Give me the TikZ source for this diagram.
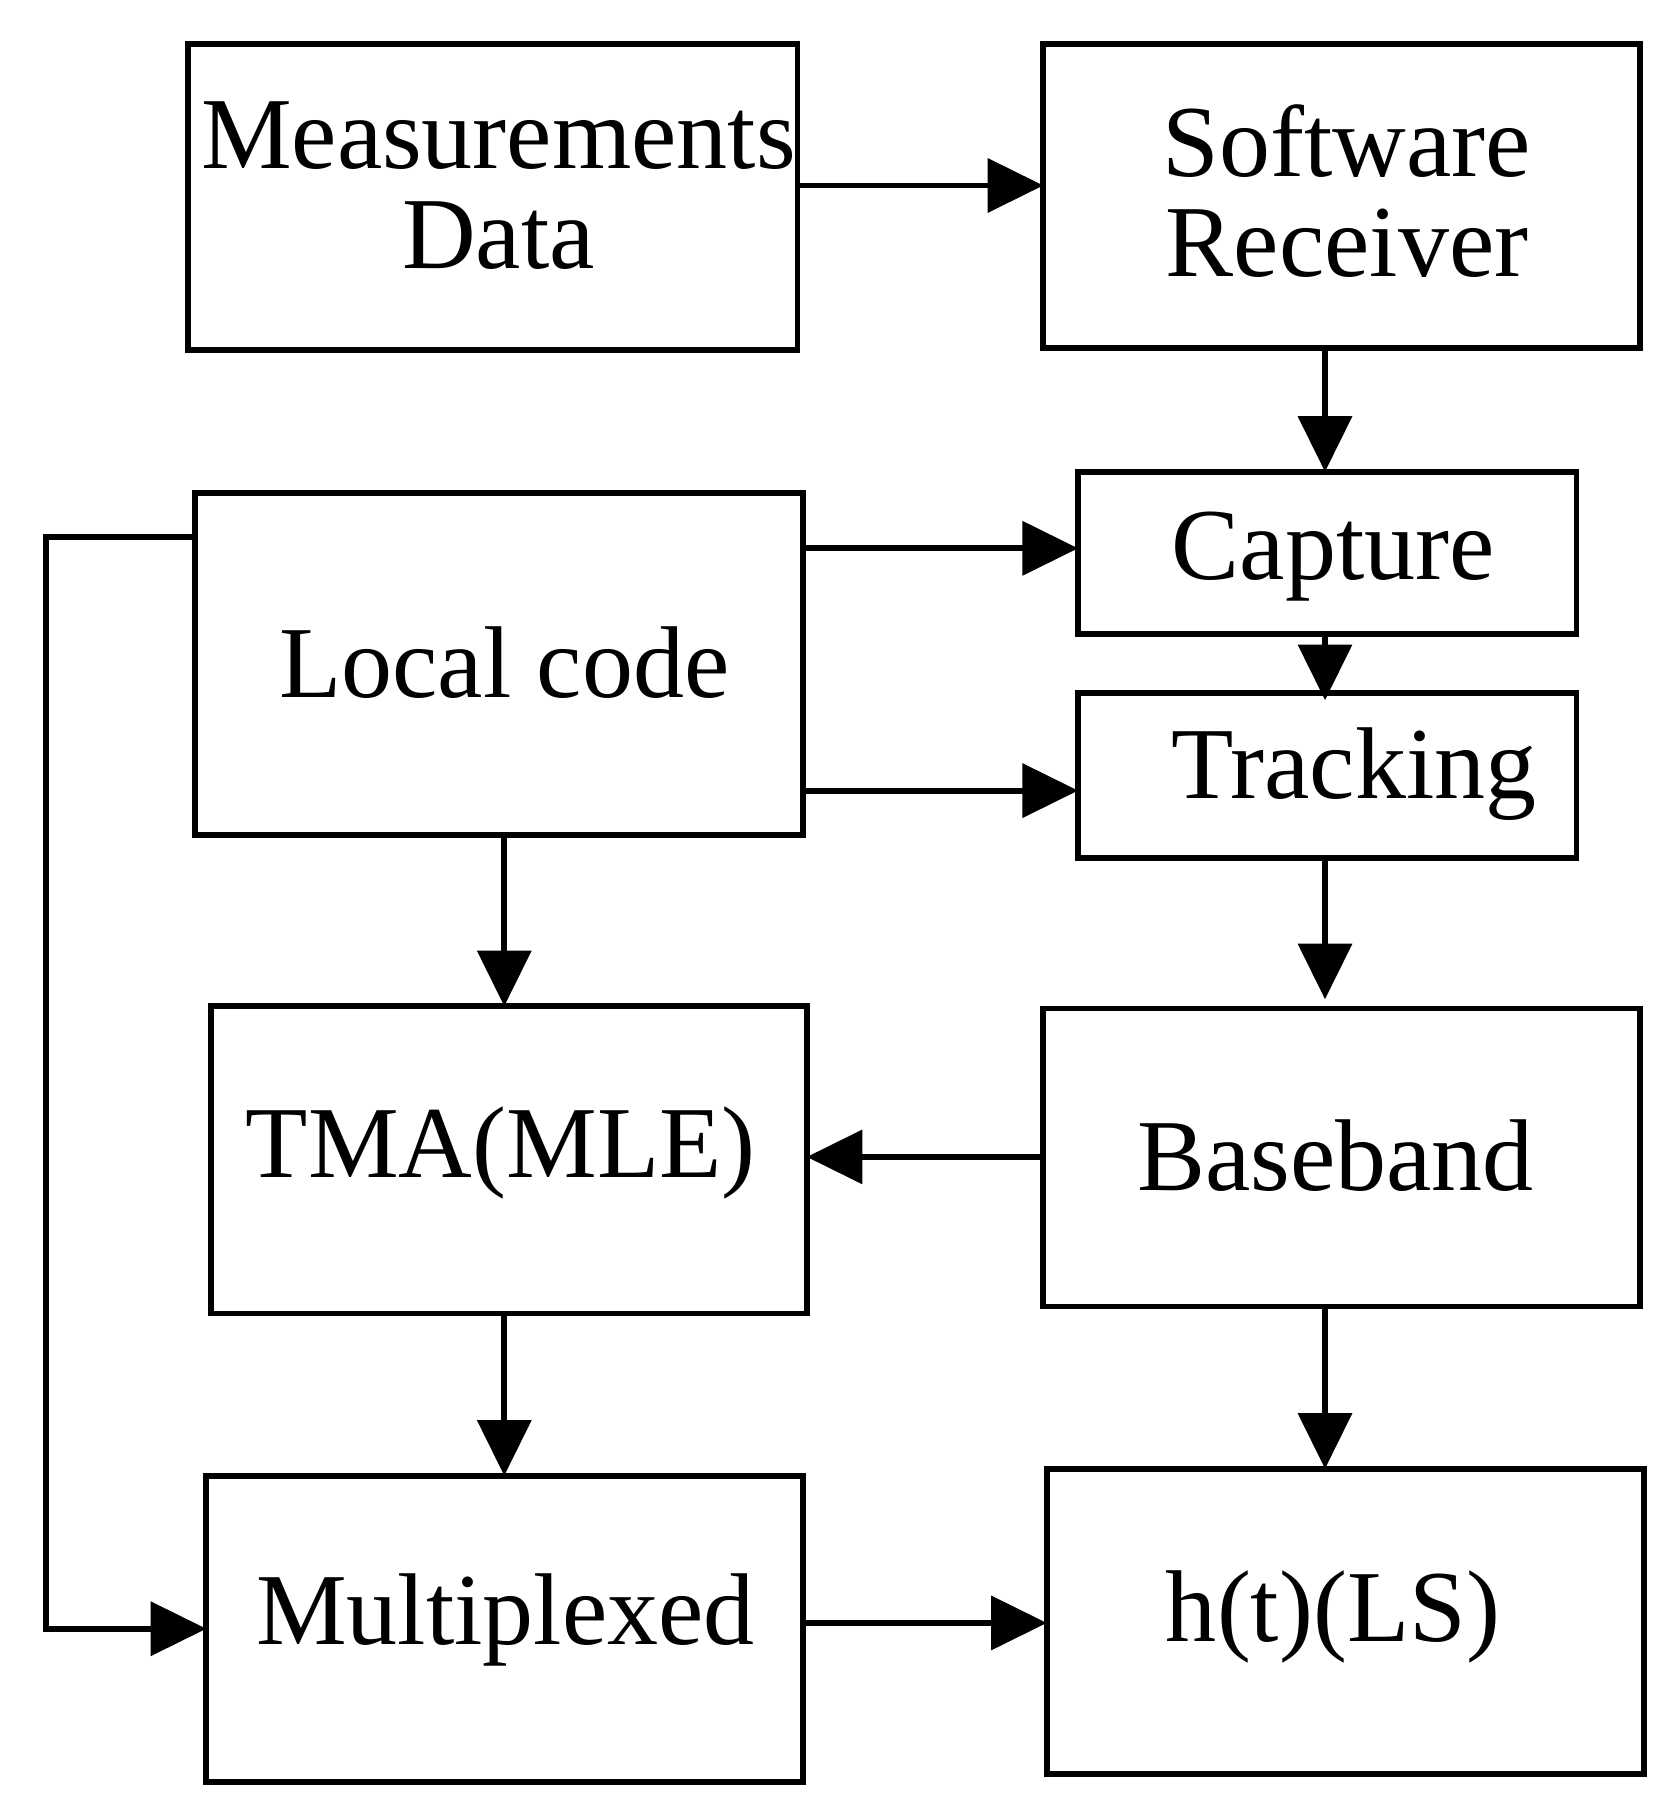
\documentclass[tikz,border=0pt]{standalone}
\usepackage{fontspec}
\setmainfont{Liberation Serif}
\usetikzlibrary{arrows.meta}
\begin{document}
\begin{tikzpicture}[x=1pt,y=-1pt,line width=5pt,
  box/.style={draw,line width=5pt},
  lbl/.style={font=\fontsize{88}{100}\selectfont,align=center},
  arr/.style={-{Triangle[length=48pt,width=46pt]}}]
\useasboundingbox (0,0) rectangle (1446,1570);
\draw[box] (162,38) rectangle (688,302); \coordinate (meas) at (425,170);
\node[lbl] (measT) at (430,160) {Measurements\\[-14pt]Data};
\draw[box] (900,38) rectangle (1415,300);
\node[lbl] (softT) at (1162,165) {Software\\[-14pt]Receiver};
\draw[box] (930,407) rectangle (1360,547);
\node[lbl] (capT) at (1150,480) {Capture};
\draw[box] (930,598) rectangle (1360,740);
\node[lbl] (trT) at (1168,668) {Tracking};
\draw[box] (168,425) rectangle (693,720);
\node[lbl] (locT) at (435,572) {Local code};
\draw[box] (182,868) rectangle (696,1133);
\node[lbl] (tmaT) at (432,995) {TMA(MLE)};
\draw[box] (900,870) rectangle (1415,1127);
\node[lbl] (bbT) at (1152,997) {Baseband};
\draw[box] (178,1273) rectangle (693,1537);
\node[lbl] (muT) at (436,1397) {Multiplexed};
\draw[box] (903,1267) rectangle (1418,1530);
\node[lbl] (hT) at (1150,1395) {h(t)(LS)};
\coordinate (a1) at (688,160); \coordinate (a2) at (900,160);
\draw[arr] (a1) -- (a2);
\coordinate (b1) at (1143,300); \coordinate (b2) at (1143,407);
\draw[arr] (b1) -- (b2);
\coordinate (c1) at (1143,547); \coordinate (c2) at (1143,604);
\draw[arr] (c1) -- (c2);
\coordinate (d1) at (693,473); \coordinate (d2) at (930,473);
\draw[arr] (d1) -- (d2);
\coordinate (e1) at (693,682); \coordinate (e2) at (930,682);
\draw[arr] (e1) -- (e2);
\coordinate (f1) at (435,720); \coordinate (f2) at (435,868);
\draw[arr] (f1) -- (f2);
\coordinate (g1) at (1143,740); \coordinate (g2) at (1143,862);
\draw[arr] (g1) -- (g2);
\coordinate (h1) at (900,998); \coordinate (h2) at (696,998);
\draw[arr] (h1) -- (h2);
\coordinate (i1) at (435,1133); \coordinate (i2) at (435,1273);
\draw[arr] (i1) -- (i2);
\coordinate (j1) at (1143,1127); \coordinate (j2) at (1143,1267);
\draw[arr] (j1) -- (j2);
\coordinate (k1) at (693,1400); \coordinate (k2) at (903,1400);
\draw[arr] (k1) -- (k2);
\coordinate (l1) at (168,463); \coordinate (l2) at (178,1405);
\draw[arr] (l1) -- (40,463) -- (40,1405) -- (l2);
\end{tikzpicture}
\end{document}
